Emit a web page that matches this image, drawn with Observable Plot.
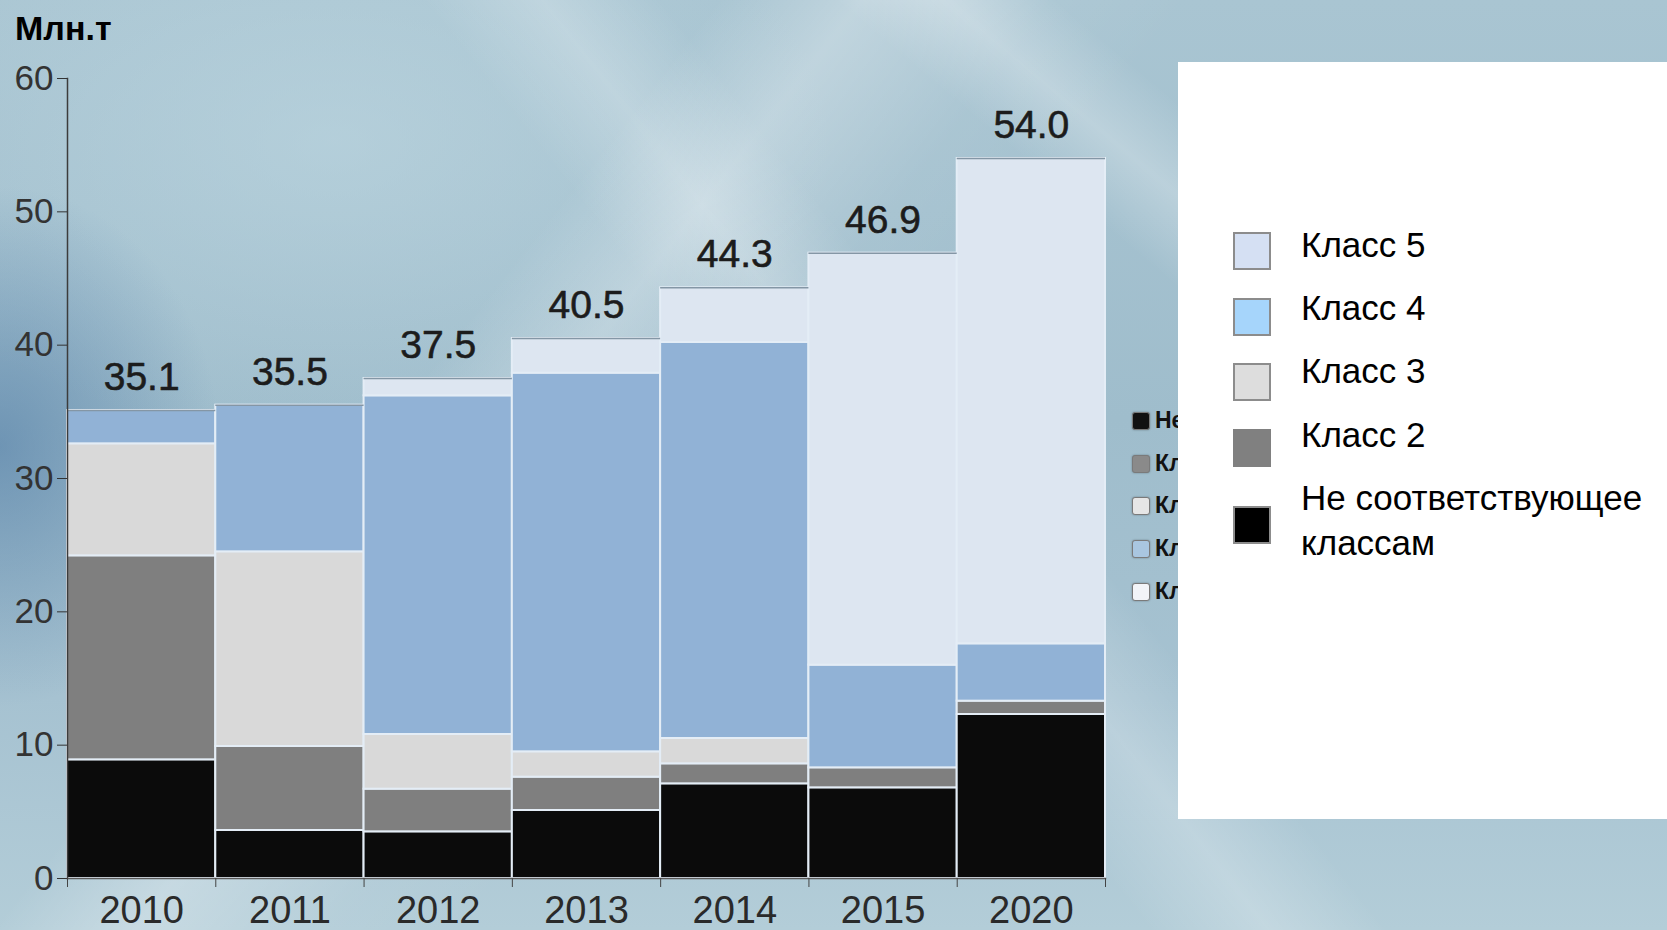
<!DOCTYPE html>
<html>
<head>
<meta charset="utf-8">
<script src="https://cdn.jsdelivr.net/npm/d3@7"></script>
<script src="https://cdn.jsdelivr.net/npm/@observablehq/plot@0.6"></script>
<style>
  html, body { margin: 0; padding: 0; }
  #wrap {
    position: relative; width: 1667px; height: 930px; overflow: hidden;
    font-family: "Liberation Sans", Arial, sans-serif;
    background:
      linear-gradient(128deg, transparent 30%, rgba(255,255,255,0.28) 36%, rgba(255,255,255,0.05) 44%, transparent 50%),
      linear-gradient(52deg, transparent 48%, rgba(255,255,255,0.22) 53%, transparent 58%),
      linear-gradient(40deg, transparent 70%, rgba(255,255,255,0.25) 74%, transparent 78%),
      radial-gradient(ellipse 220px 260px at 0% 48%, rgba(70,115,160,0.55), transparent 100%),
      radial-gradient(ellipse 500px 300px at 20% 15%, rgba(190,215,225,0.6), transparent 100%),
      linear-gradient(180deg, #a9c5d2 0%, #9fbdcc 45%, #a6c2d1 75%, #b3cdd8 100%);
  }
  #chart { position: absolute; left: 0; top: 0; }
  .title { position: absolute; left: 15px; top: 11px; font-size: 34px; line-height: 34px; font-weight: bold; color: #000; }
  .oldlegend { position: absolute; left: 1131px; top: 411px; }
  .oldlegend .row { position: absolute; left: 0; height: 22px; white-space: nowrap; }
  .oldlegend .sq { position: absolute; left: 1px; top: 1px; width: 16px; height: 16px; border: 1px solid #7a7a7a; border-radius: 3px; box-shadow: 0 0 2px rgba(0,0,0,0.35); }
  .oldlegend .tx { position: absolute; left: 24px; top: -2px; font-size: 23px; line-height: 23px; font-weight: bold; color: #111; white-space: nowrap; }
  .panel { position: absolute; left: 1178px; top: 62px; width: 489px; height: 757px; background: #fff; }
  .sw { position: absolute; left: 1233px; width: 34px; height: 34px; border: 2px solid #8c8c8c; }
  .lt { position: absolute; left: 1301px; font-size: 35px; line-height: 35px; color: #000; white-space: nowrap; }
</style>
</head>
<body>
<div id="wrap">
  <div id="chart"></div>
  <div class="title">Млн.т</div>
  <div class="oldlegend" id="oldlegend"></div>
  <div class="panel"></div>
  <div id="legend"></div>
</div>
<script>
// ---- data ----
const years = ["2010", "2011", "2012", "2013", "2014", "2015", "2020"];
const seriesNames = ["Не соответствующее классам", "Класс 2", "Класс 3", "Класс 4", "Класс 5"];
const notClass = [8.9, 3.6, 3.5, 5.1, 7.1, 6.8, 12.3];
const class2   = [15.3, 6.3, 3.2, 2.5, 1.5, 1.5, 1.0];
const class3   = [8.4, 14.6, 4.1, 1.9, 1.9, 0, 0];
const class4   = [2.5, 11.0, 25.4, 28.4, 29.7, 7.7, 4.3];
const class5   = [0, 0, 1.3, 2.6, 4.1, 30.9, 36.4];
const totals   = [35.1, 35.5, 37.5, 40.5, 44.3, 46.9, 54.0];
const yTicks   = [0, 10, 20, 30, 40, 50, 60];
const barColors = ["#0b0b0b", "#7f7f7f", "#d9d9d9", "#91b2d6", "#dde6f1"];
const legendColors = ["#000000", "#808080", "#dddddd", "#a6d5fb", "#d5e0f3"];
// visible (uncovered) beginnings of an older legend partly hidden by the white panel
const oldLegendNames = ["Не", "Кл", "Кл", "Кл", "Кл"];
const oldLegendColors = ["#111111", "#8a8a8a", "#e6e6e6", "#a9c6e0", "#f2f4f8"];

// ---- build table ----
const seriesValues = [notClass, class2, class3, class4, class5];
const rows = [];
years.forEach((year, i) => {
  let acc = 0;
  seriesValues.forEach((vals, k) => {
    const v = vals[i];
    if (v > 0) rows.push({i, year, series: seriesNames[k], y1: acc, y2: acc + v});
    acc += v;
  });
});
const totalRows = years.map((year, i) => ({i, year, total: totals[i]}));

const chart = Plot.plot({
  width: 1667,
  height: 930,
  marginLeft: 67,
  marginRight: 562,
  marginTop: 78,
  marginBottom: 52,
  style: {background: "transparent", fontFamily: "Liberation Sans, Arial, sans-serif", overflow: "visible"},
  x: {type: "linear", domain: [0, years.length]},
  y: {domain: [0, 60]},
  color: {domain: seriesNames, range: barColors},
  marks: [
    Plot.rect(rows, {x1: d => d.i, x2: d => d.i + 1, y1: "y1", y2: "y2", fill: "series", stroke: "#e4edf6", strokeWidth: 2}),
    Plot.ruleY(totalRows, {y: "total", x1: d => d.i, x2: d => d.i + 1, stroke: "#8496a5", strokeWidth: 1.5}),
    Plot.frame({anchor: "left", stroke: "#3c3c3c", strokeWidth: 1.5}),
    Plot.frame({anchor: "bottom", stroke: "#5a5a5a", strokeWidth: 1.5}),
    Plot.axisY({ticks: yTicks, tickSize: 10, tickPadding: 4, fontSize: 35, color: "#333", label: null}),
    Plot.axisX({ticks: d3.range(0, years.length + 1), tickSize: 9, tickFormat: () => "", color: "#444", label: null}),
    Plot.axisX({ticks: years.map((_, i) => i + 0.5), tickSize: 0, tickPadding: 18, tickFormat: v => years[Math.floor(v)], fontSize: 38, color: "#2a2a2a", label: null}),
    Plot.text(totalRows, {x: d => d.i + 0.5, y: "total", text: d => d.total.toFixed(1), dy: -33, lineAnchor: "middle", fontSize: 39, fontFamily: "Liberation Sans Narrow, Arial Narrow, sans-serif", fill: "#1c1c1c", stroke: "#1c1c1c", strokeWidth: 0.6})
  ]
});
document.getElementById("chart").appendChild(chart);

// ---- old (partly hidden) legend ----
const ol = document.getElementById("oldlegend");
const rowStep = 42.7;
oldLegendNames.forEach((name, k) => {
  const r = document.createElement("div");
  r.className = "row";
  r.style.top = (k * rowStep) + "px";
  r.innerHTML = `<div class="sq" style="background:${oldLegendColors[k]}"></div><div class="tx">${name}</div>`;
  ol.appendChild(r);
});

// ---- legend on white panel ----
const lg = document.getElementById("legend");
const order = [4, 3, 2, 1, 0];
const swTops = [232, 298, 363, 429, 506];
const txTops = [[227], [290], [353], [417], [480, 525]];
const labelLines = [["Класс 5"], ["Класс 4"], ["Класс 3"], ["Класс 2"], ["Не соответствующее", "классам"]];
order.forEach((k, j) => {
  const sw = document.createElement("div");
  sw.className = "sw";
  sw.style.top = swTops[j] + "px";
  sw.style.background = legendColors[k];
  if (k === 1) sw.style.borderColor = legendColors[k];
  lg.appendChild(sw);
  labelLines[j].forEach((line, m) => {
    const t = document.createElement("div");
    t.className = "lt";
    t.style.top = txTops[j][m] + "px";
    t.textContent = line;
    lg.appendChild(t);
  });
});
</script>
</body>
</html>
